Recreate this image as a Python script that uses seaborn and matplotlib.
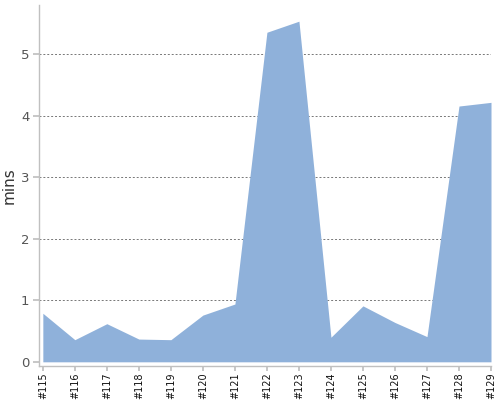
import matplotlib
matplotlib.use("Agg")
import matplotlib.pyplot as plt
import seaborn as sns
import pandas as pd

builds = ["#115", "#116", "#117", "#118", "#119", "#120", "#121", "#122",
          "#123", "#124", "#125", "#126", "#127", "#128", "#129"]
mins = [0.79, 0.36, 0.62, 0.37, 0.36, 0.76, 0.94, 5.36,
        5.54, 0.40, 0.91, 0.64, 0.41, 4.16, 4.22]

df = pd.DataFrame({"build": builds, "mins": mins, "pos": range(len(builds))})

sns.set_theme(style="white")
plt.rcParams['font.family'] = ['DejaVu Sans']

fig = plt.figure(figsize=(5, 4), dpi=100)
ax = fig.add_axes([0.078, 0.085, 0.904, 0.902])

color = "#8fb1da"
sns.lineplot(data=df, x="pos", y="mins", ax=ax, color=color, linewidth=0)
ax.fill_between(df["pos"], 0, df["mins"], color=color, linewidth=0)

ax.set_xlim(-0.12, len(builds) - 1)
ax.set_ylim(-0.068, 5.8)
ax.set_xticks(df["pos"])
ax.set_xticklabels(builds, rotation=90, fontsize=7, color="#111111")
ax.set_yticks([0, 1, 2, 3, 4, 5])
ax.set_yticklabels(["0", "1", "2", "3", "4", "5"], fontsize=9.5, color="#555555")
ax.set_xlabel("")
ax.set_ylabel("mins", fontsize=11, color="#333333", labelpad=3)

for y in [1, 2, 3, 4, 5]:
    ax.axhline(y, color="#777777", linestyle=(0, (2, 2)), linewidth=0.7, zorder=0)

for side in ["top", "right"]:
    ax.spines[side].set_visible(False)
for side in ["left", "bottom"]:
    ax.spines[side].set_color("#c0c0c0")
    ax.spines[side].set_linewidth(1)

ax.tick_params(axis="x", length=3.5, color="#c0c0c0", pad=1, bottom=True)
ax.tick_params(axis="y", length=4, color="#c0c0c0", pad=3, left=True)

fig.savefig("out.png", dpi=100)
